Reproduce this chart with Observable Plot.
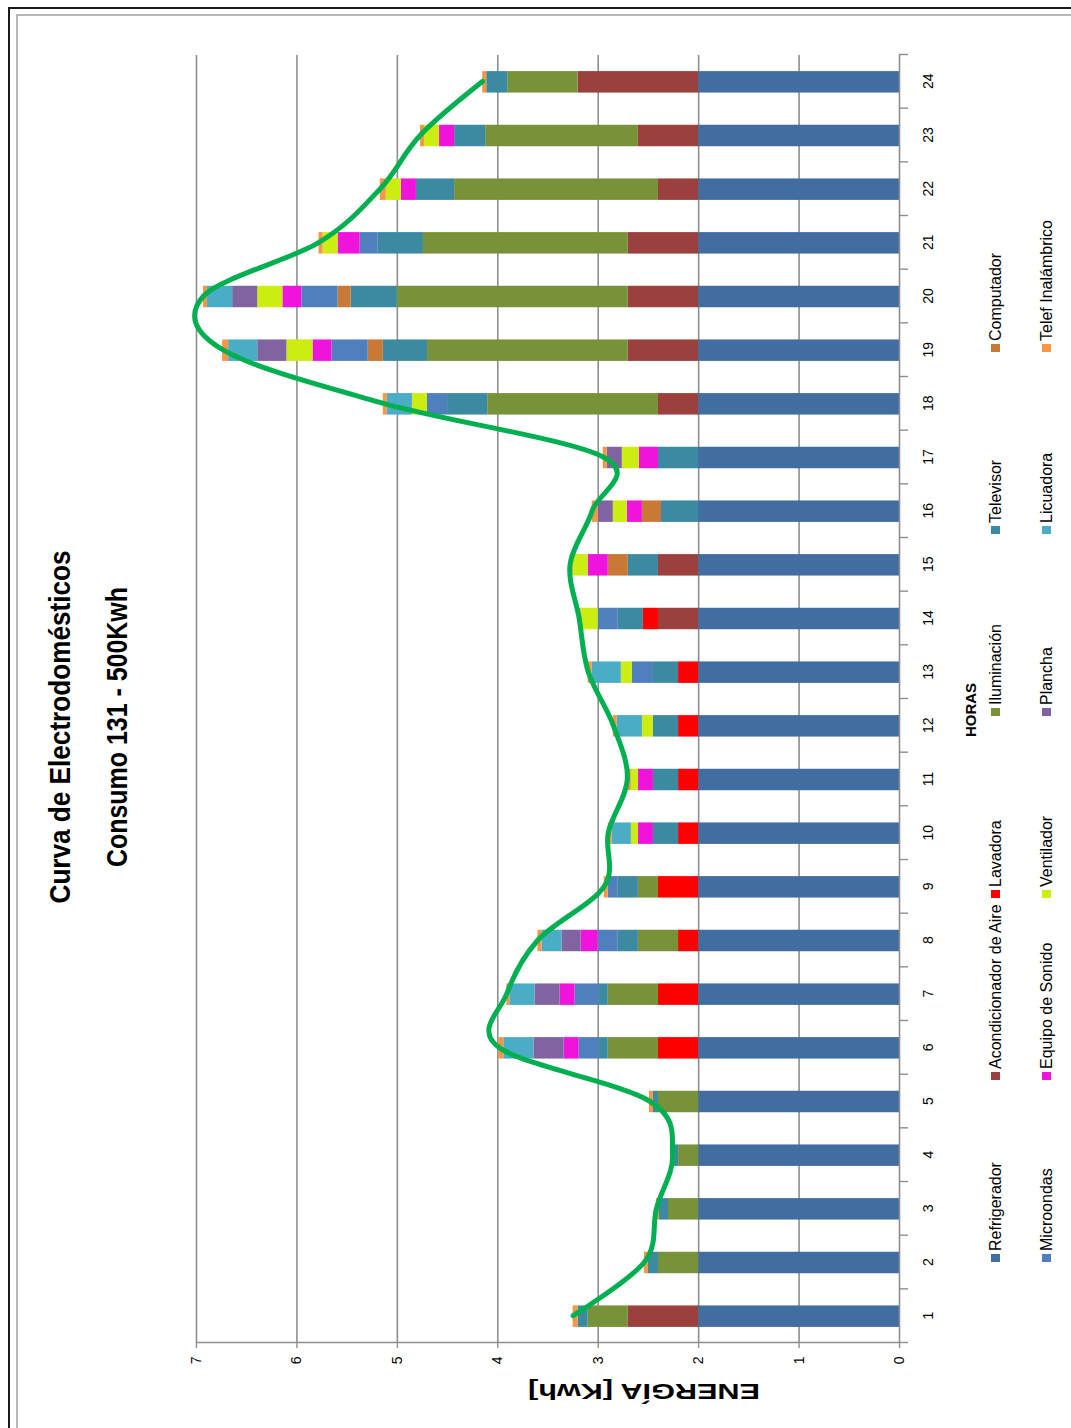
<!DOCTYPE html>
<html><head><meta charset="utf-8">
<script src="https://cdn.jsdelivr.net/npm/d3@7"></script>
<script src="https://cdn.jsdelivr.net/npm/@observablehq/plot@0.6"></script>
<style>
html,body{margin:0;padding:0;background:#fff;overflow:hidden;}
#page{position:relative;width:1071px;height:1428px;overflow:hidden;background:#fff;}
#rot{position:absolute;left:0;top:0;width:1428px;height:1071px;transform-origin:0 0;transform:translate(0,1428px) rotate(-90deg);}
#rot > svg{position:absolute;left:0;top:0;overflow:visible;}
</style></head><body>
<div id="page"><div id="rot"></div></div>
<script>
// ---------------- DATA ----------------
const hours = [1,2,3,4,5,6,7,8,9,10,11,12,13,14,15,16,17,18,19,20,21,22,23,24];
const appliances = ["Refrigerador","Acondicionador de Aire","Lavadora","Iluminación","Televisor","Computador",
                    "Microondas","Equipo de Sonido","Ventilador","Plancha","Licuadora","Telef Inalámbrico"];
const colors = ["#426DA1","#9B403D","#FF0000","#78923A","#3C8AA1","#C97835",
                "#4F80BD","#EE14DC","#CCEC12","#8064A2","#4BACC6","#F79646"];
const refrigerador   = [2,2,2,2,2,2,2,2,2,2,2,2,2,2,2,2,2,2,2,2,2,2,2,2];
const acondicionador = [0.7,0,0,0,0,0,0,0,0,0,0,0,0,0.4,0.4,0,0,0.4,0.7,0.7,0.7,0.4,0.6,1.2];
const lavadora       = [0,0,0,0,0,0.4,0.4,0.2,0.4,0.2,0.2,0.2,0.2,0.15,0,0,0,0,0,0,0,0,0,0];
const iluminacion    = [0.4,0.4,0.3,0.2,0.4,0.5,0.5,0.4,0.2,0,0,0,0,0,0,0,0,1.7,2.0,2.3,2.04,2.03,1.52,0.7];
const televisor      = [0.1,0.1,0.09,0.05,0.05,0.09,0.09,0.2,0.2,0.25,0.25,0.25,0.25,0.25,0.3,0.37,0.4,0.4,0.44,0.46,0.45,0.38,0.31,0.21];
const computador     = [0,0,0,0,0,0,0,0,0,0,0,0,0,0,0.2,0.19,0,0,0.15,0.13,0,0,0,0];
const microondas     = [0,0,0,0,0,0.2,0.24,0.2,0.1,0,0,0,0.21,0.2,0,0,0,0.2,0.36,0.36,0.18,0,0,0];
const sonido         = [0,0,0,0,0,0.15,0.15,0.17,0,0.15,0.15,0,0,0,0.2,0.15,0.19,0,0.19,0.19,0.22,0.15,0.15,0];
const ventilador     = [0,0,0,0,0,0,0,0,0,0.07,0.07,0.11,0.11,0.17,0.15,0.14,0.17,0.15,0.26,0.25,0.15,0.15,0.15,0];
const plancha        = [0,0,0,0,0,0.3,0.25,0.19,0,0,0,0,0,0,0,0.15,0.15,0,0.29,0.25,0,0,0,0];
const licuadora      = [0,0,0,0,0,0.3,0.25,0.2,0,0.19,0,0.25,0.29,0,0,0,0,0.25,0.29,0.25,0,0,0,0];
const telefono       = [0.05,0.04,0.03,0.01,0.04,0.05,0.03,0.04,0.04,0.04,0.04,0.04,0.04,0.02,0.03,0.06,0.04,0.04,0.06,0.04,0.04,0.06,0.04,0.04];
const valueTicks = [0,1,2,3,4,5,6,7];
const title1 = "Curva de Electrodomésticos";
const title2 = "Consumo 131 - 500Kwh";
const xTitle = "HORAS";
const yTitle = "ENERGÍA [Kwh]";

// ---------------- BUILD ----------------
const seriesValues = [refrigerador, acondicionador, lavadora, iluminacion, televisor, computador,
                      microondas, sonido, ventilador, plancha, licuadora, telefono];
const data = [];
seriesValues.forEach((vals, i) => vals.forEach((v, j) => data.push({hour: hours[j], appliance: appliances[i], value: v})));
const totals = hours.map((h, j) => ({hour: h, total: d3.sum(seriesValues, s => s[j])}));
const boundaries = hours.map(h => h - 0.5).concat([hours[hours.length - 1] + 0.5]);

const W = 1428, H = 1071;
const FONT = "'Liberation Sans', Arial, sans-serif";
const barHalf = 0.2;
const grid = "#8e8e8e";

const chart = Plot.plot({
  width: W, height: H,
  marginTop: 196, marginBottom: 172, marginLeft: 85, marginRight: 55,
  style: {background: "transparent", fontFamily: FONT, color: "#000", overflow: "visible"},
  x: {type: "linear", domain: [0.5, 24.5]},
  y: {domain: [0, 7]},
  color: {domain: appliances, range: colors},
  marks: [
    Plot.ruleY(valueTicks.filter(v => v > 0), {stroke: grid, strokeWidth: 1.6}),
    Plot.rectY(data, {x1: d => d.hour - barHalf, x2: d => d.hour + barHalf, y: "value", fill: "appliance"}),
    Plot.ruleY([0], {stroke: grid, strokeWidth: 1.6}),
    Plot.ruleX([0.5], {stroke: grid, strokeWidth: 1.6}),
    Plot.axisX({ticks: boundaries, tickFormat: () => "", tickSize: 9, stroke: grid, strokeWidth: 1.4, label: null}),
    Plot.axisX({ticks: hours, tickFormat: d => String(d), tickSize: 0, tickPadding: 24, fontSize: 14, label: null, fill: "#000"}),
    Plot.axisY({ticks: valueTicks, tickFormat: d => String(d), tickSize: 5, tickPadding: 9, fontSize: 14, label: null, stroke: grid, strokeWidth: 1.4, fill: "#000"}),
    Plot.line(totals, {x: "hour", y: "total", curve: "cardinal", stroke: "#00B050", strokeWidth: 5, strokeLinecap: "round", strokeLinejoin: "round"})
  ]
});
const rot = document.getElementById("rot");
rot.appendChild(chart);

// overlay: frame, titles, legend
const svg = d3.create("svg").attr("width", W).attr("height", H).style("font-family", FONT);
svg.append("path").attr("d", `M0,9H1420V${H}`).attr("fill", "none").attr("stroke", "#1a1a1a").attr("stroke-width", 2);
svg.append("path").attr("d", `M0,17H1413V${H}`).attr("fill", "none").attr("stroke", "#a0a0a0").attr("stroke-width", 1.5);

svg.append("text").text(title1).attr("x", 701).attr("y", 70).attr("text-anchor", "middle")
  .attr("font-size", 29).attr("font-weight", "bold").attr("textLength", 353).attr("lengthAdjust", "spacingAndGlyphs");
svg.append("text").text(title2).attr("x", 701).attr("y", 127).attr("text-anchor", "middle")
  .attr("font-size", 29).attr("font-weight", "bold").attr("textLength", 280).attr("lengthAdjust", "spacingAndGlyphs");
svg.append("text").text(xTitle).attr("x", 718).attr("y", 976).attr("text-anchor", "middle")
  .attr("font-size", 15).attr("font-weight", "bold");
svg.append("text").text(yTitle).attr("transform", "translate(44,644) rotate(-90)").attr("text-anchor", "middle")
  .attr("font-size", 22).attr("font-weight", "bold").attr("textLength", 232).attr("lengthAdjust", "spacingAndGlyphs");

const legendStart = 170, legendStep = 182, rowBase = [1001, 1052];
appliances.forEach((name, i) => {
  const col = i % 6, row = Math.floor(i / 6);
  const cx = legendStart + col * legendStep;
  const g = svg.append("g");
  g.append("rect").attr("x", cx - 4).attr("y", rowBase[row] - 10).attr("width", 8).attr("height", 9).attr("fill", colors[i]);
  g.append("text").text(name).attr("x", cx + 7).attr("y", rowBase[row]).attr("font-size", 16);
});
rot.appendChild(svg.node());
</script>
</body></html>
